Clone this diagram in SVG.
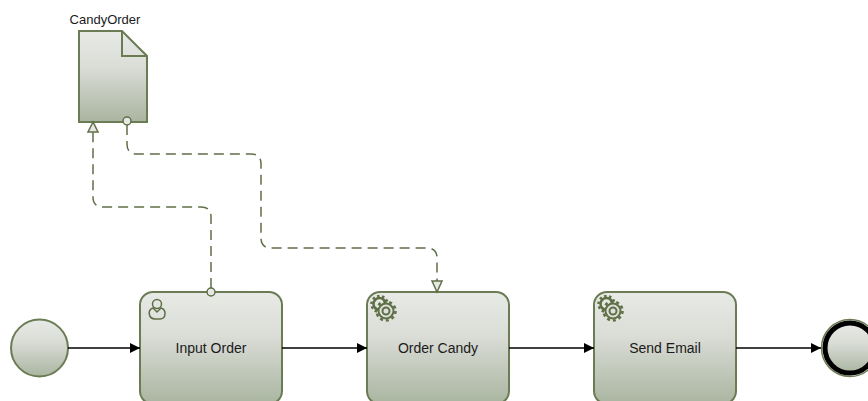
<svg xmlns="http://www.w3.org/2000/svg" width="868" height="401" viewBox="0 0 868 401">
<style>
.shape{fill:url(#g);stroke:#6b7c54;stroke-width:2}
.lbl{font-family:"Liberation Sans",Arial,sans-serif;font-size:14px;fill:#1a1a1a;text-anchor:middle}
.flow{fill:none;stroke:#000;stroke-width:1.5}
.data{fill:none;stroke:#5f6f46;stroke-width:1.5;stroke-dasharray:10 6}
.end{fill:#e6e8e3;stroke:#5f6f46;stroke-width:1.5}
.ico{fill:none;stroke:#5f6f46;stroke-width:1.5}
</style>
<defs>
<linearGradient id="g" x1="0" y1="0" x2="0" y2="1"><stop offset="0" stop-color="#e8eae6"/><stop offset="0.4" stop-color="#dadcd6"/><stop offset="1" stop-color="#a9b5a0"/></linearGradient>
<marker id="arr" markerWidth="11" markerHeight="10" refX="10" refY="5" orient="auto" markerUnits="userSpaceOnUse"><path d="M0 0L10 5L0 10Z" fill="#000"/></marker>
<g id="gear">
<circle cx="-5.500" cy="-6" r="6" fill="none" stroke="#5f6f46" stroke-width="2.500"/>
<circle cx="-5.500" cy="-6" r="8" fill="none" stroke="#5f6f46" stroke-width="2.500" stroke-dasharray="2.500 2.500"/>
<circle cx="1" cy="1" r="9.500" fill="none" stroke="#5f6f46" stroke-width="2.500" stroke-dasharray="3 2.970"/>
<circle cx="1" cy="1" r="7.500" fill="#dfe1dc" stroke="#5f6f46" stroke-width="2"/>
<circle cx="1" cy="1" r="3.500" fill="none" stroke="#5f6f46" stroke-width="2"/>
</g>
</defs>
<g id="start"><circle class="shape" cx="39.5" cy="348" r="28.5"/></g>
<g id="doc">
<path class="shape" d="M79 31H122L147 56V122H79Z"/>
<path class="shape" style="fill:none" d="M122 31V56H147"/>
<text class="lbl" x="105" y="24" style="font-size:13px">CandyOrder</text>
</g>
<g id="task1">
<rect class="shape" x="140" y="292" width="142" height="112" rx="13"/>
<circle class="ico" cx="157" cy="304" r="4.500"/>
<path class="ico" d="M153 308C147 310 148.500 319 155 319H160C166 319 167 310 161 308L157 312Z"/>
<text class="lbl" x="211" y="353">Input Order</text>
</g>
<g id="task2">
<rect class="shape" x="367" y="292" width="142" height="112" rx="13"/>
<use href="#gear" x="385" y="310"/>
<text class="lbl" x="438" y="353">Order Candy</text>
</g>
<g id="task3">
<rect class="shape" x="594" y="292" width="142" height="112" rx="13"/>
<use href="#gear" x="612" y="310"/>
<text class="lbl" x="665" y="353">Send Email</text>
</g>
<g id="finish">
<circle cx="850" cy="348" r="28.500" fill="none" stroke="#6b7c54" stroke-width="1.500"/>
<circle class="shape" cx="850" cy="348" r="25" style="stroke:#000;stroke-width:5"/>
</g>
<g id="connectors">
<path class="flow" d="M68 348H140" marker-end="url(#arr)"/>
<path class="flow" d="M282 348H367" marker-end="url(#arr)"/>
<path class="flow" d="M509 348H594" marker-end="url(#arr)"/>
<path class="flow" d="M736 348H821" marker-end="url(#arr)"/>
<path class="data" d="M211 288V217Q211 207 201 207H103Q93 207 93 197V132"/>
<path class="data" d="M127 125V144Q127 154 137 154H251Q261 154 261 164V238Q261 248 271 248H427Q437 248 437 258V281"/>
<path class="end" d="M93 122L88 132H98Z"/>
<path class="end" d="M437 292L432 281H442Z"/>
<circle class="end" cx="127" cy="121" r="4"/>
<circle class="end" cx="211" cy="292" r="4"/>
</g>
</svg>
